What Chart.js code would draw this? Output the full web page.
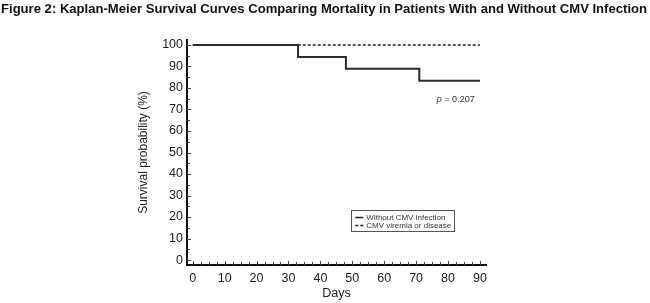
<!DOCTYPE html>
<html>
<head>
<meta charset="utf-8">
<script src="https://cdn.jsdelivr.net/npm/chart.js@4.4.0/dist/chart.umd.min.js"></script>
<style>
html,body{margin:0;padding:0;background:#fff;}
#wrap{position:relative;width:650px;height:303px;}
</style>
</head>
<body>
<div id="wrap"><canvas id="c" width="650" height="303"></canvas></div>
<script>
// ---- data ----
const titleText = "Figure 2: Kaplan-Meier Survival Curves Comparing Mortality in Patients With and Without CMV Infection";
const seriesLabels = ["Without CMV infection", "CMV viremia or disease"];
const withoutDays = [0, 33, 48, 71, 90];
const withoutSurv = [100, 94.4, 88.9, 83.3, 83.3];
const cmvDays = [0, 90];
const cmvSurv = [100, 100];
const xTicks = [0, 10, 20, 30, 40, 50, 60, 70, 80, 90];
const yTicks = [0, 10, 20, 30, 40, 50, 60, 70, 80, 90, 100];
const pText = "= 0.207";
const xTitle = "Days";
const yTitle = "Survival probability (%)";

const toPts = (xs, ys) => xs.map((x, i) => ({x: x, y: ys[i]}));

const decor = {
  id: 'decor',
  afterDraw(chart) {
    const ctx = chart.ctx;
    const xs = chart.scales.x, ys = chart.scales.y;
    const ax = chart.chartArea.left, ay = chart.chartArea.bottom;
    ctx.save();
    // inward ticks
    ctx.strokeStyle = '#444';
    ctx.lineWidth = 1;
    for (let v = 0; v <= 100; v += 5) {
      const py = Math.round(ys.getPixelForValue(v)) + 0.5;
      const len = (v % 10 === 0) ? 4 : 3;
      ctx.beginPath(); ctx.moveTo(ax, py); ctx.lineTo(ax + len, py); ctx.stroke();
    }
    for (let v = 0; v <= 90; v += 2.5) {
      const px = Math.round(xs.getPixelForValue(v)) + 0.5;
      const len = (v % 10 === 0) ? 4 : 3;
      ctx.beginPath(); ctx.moveTo(px, ay); ctx.lineTo(px, ay - len); ctx.stroke();
    }
    // title
    ctx.fillStyle = '#111';
    ctx.font = 'bold 13px "Liberation Sans", Arial, sans-serif';
    ctx.textBaseline = 'alphabetic';
    ctx.textAlign = 'left';
    const w = ctx.measureText(titleText).width;
    ctx.save();
    ctx.translate(1, 12.7);
    ctx.scale(646 / w, 1);
    ctx.fillText(titleText, 0, 0);
    ctx.restore();
    // p-value
    const px0 = xs.getPixelForValue(76.5), py0 = ys.getPixelForValue(74.5);
    ctx.fillStyle = '#333';
    ctx.font = 'italic 9px "Liberation Sans", Arial, sans-serif';
    ctx.textBaseline = 'middle';
    ctx.fillText('p', px0, py0);
    const pw = ctx.measureText('p ').width;
    ctx.font = '9px "Liberation Sans", Arial, sans-serif';
    ctx.fillText(pText, px0 + pw, py0);
    // legend box
    const lx = xs.getPixelForValue(49.7), rx = xs.getPixelForValue(82);
    const ty = ys.getPixelForValue(23.5), by = ys.getPixelForValue(13.7);
    ctx.strokeStyle = '#555';
    ctx.lineWidth = 1;
    ctx.strokeRect(Math.round(lx) + 0.5, Math.round(ty) + 0.5, Math.round(rx - lx), Math.round(by - ty));
    ctx.font = '8px "Liberation Sans", Arial, sans-serif';
    ctx.fillStyle = '#333';
    const rows = [ty + 7.5, ty + 15];
    chart.data.datasets.forEach((ds, i) => {
      const yy = Math.round(rows[i]) + 0.5;
      ctx.strokeStyle = '#222';
      ctx.lineWidth = 1.5;
      ctx.setLineDash(ds.borderDash || []);
      ctx.beginPath(); ctx.moveTo(lx + 4, yy); ctx.lineTo(lx + 12, yy); ctx.stroke();
      ctx.setLineDash([]);
      ctx.fillText(ds.label, lx + 15, yy);
    });
    ctx.restore();
  }
};

new Chart(document.getElementById('c'), {
  type: 'line',
  data: {
    datasets: [
      {label: seriesLabels[0], data: toPts(withoutDays, withoutSurv), stepped: true,
       borderColor: '#2a2a2a', borderWidth: 2, pointRadius: 0, fill: false, order: 0},
      {label: seriesLabels[1], data: toPts(cmvDays, cmvSurv), stepped: true,
       borderColor: '#222', borderWidth: 1.6, borderDash: [3, 2], pointRadius: 0, fill: false, order: 1}
    ]
  },
  options: {
    responsive: false,
    animation: false,
    devicePixelRatio: 1,
    layout: {padding: {left: 136, right: 164, top: 40, bottom: 2}},
    plugins: {legend: {display: false}, tooltip: {enabled: false}, title: {display: false}},
    scales: {
      x: {
        type: 'linear', min: -1.8, max: 91.9,
        afterBuildTicks: s => { s.ticks = xTicks.map(v => ({value: v})); },
        afterFit: s => { s.height = 36; },
        grid: {display: false, drawTicks: false},
        border: {display: true, color: '#111', width: 2},
        ticks: {color: '#1a1a1a', font: {family: '"Liberation Sans", Arial, sans-serif', size: 12.5}, padding: 6, maxRotation: 0, autoSkip: false},
        title: {display: true, text: xTitle, color: '#1a1a1a', font: {family: '"Liberation Sans", Arial, sans-serif', size: 12.5}, padding: 0}
      },
      y: {
        type: 'linear', min: -2.3, max: 102.3,
        afterBuildTicks: s => { s.ticks = yTicks.map(v => ({value: v})); },
        afterFit: s => { s.width = 51; },
        grid: {display: false, drawTicks: false},
        border: {display: true, color: '#111', width: 2},
        ticks: {color: '#1a1a1a', font: {family: '"Liberation Sans", Arial, sans-serif', size: 12.5}, padding: 4, autoSkip: false},
        title: {display: true, text: yTitle, color: '#1a1a1a', font: {family: '"Liberation Sans", Arial, sans-serif', size: 12}, padding: 0}
      }
    }
  },
  plugins: [decor]
});
</script>
</body>
</html>
